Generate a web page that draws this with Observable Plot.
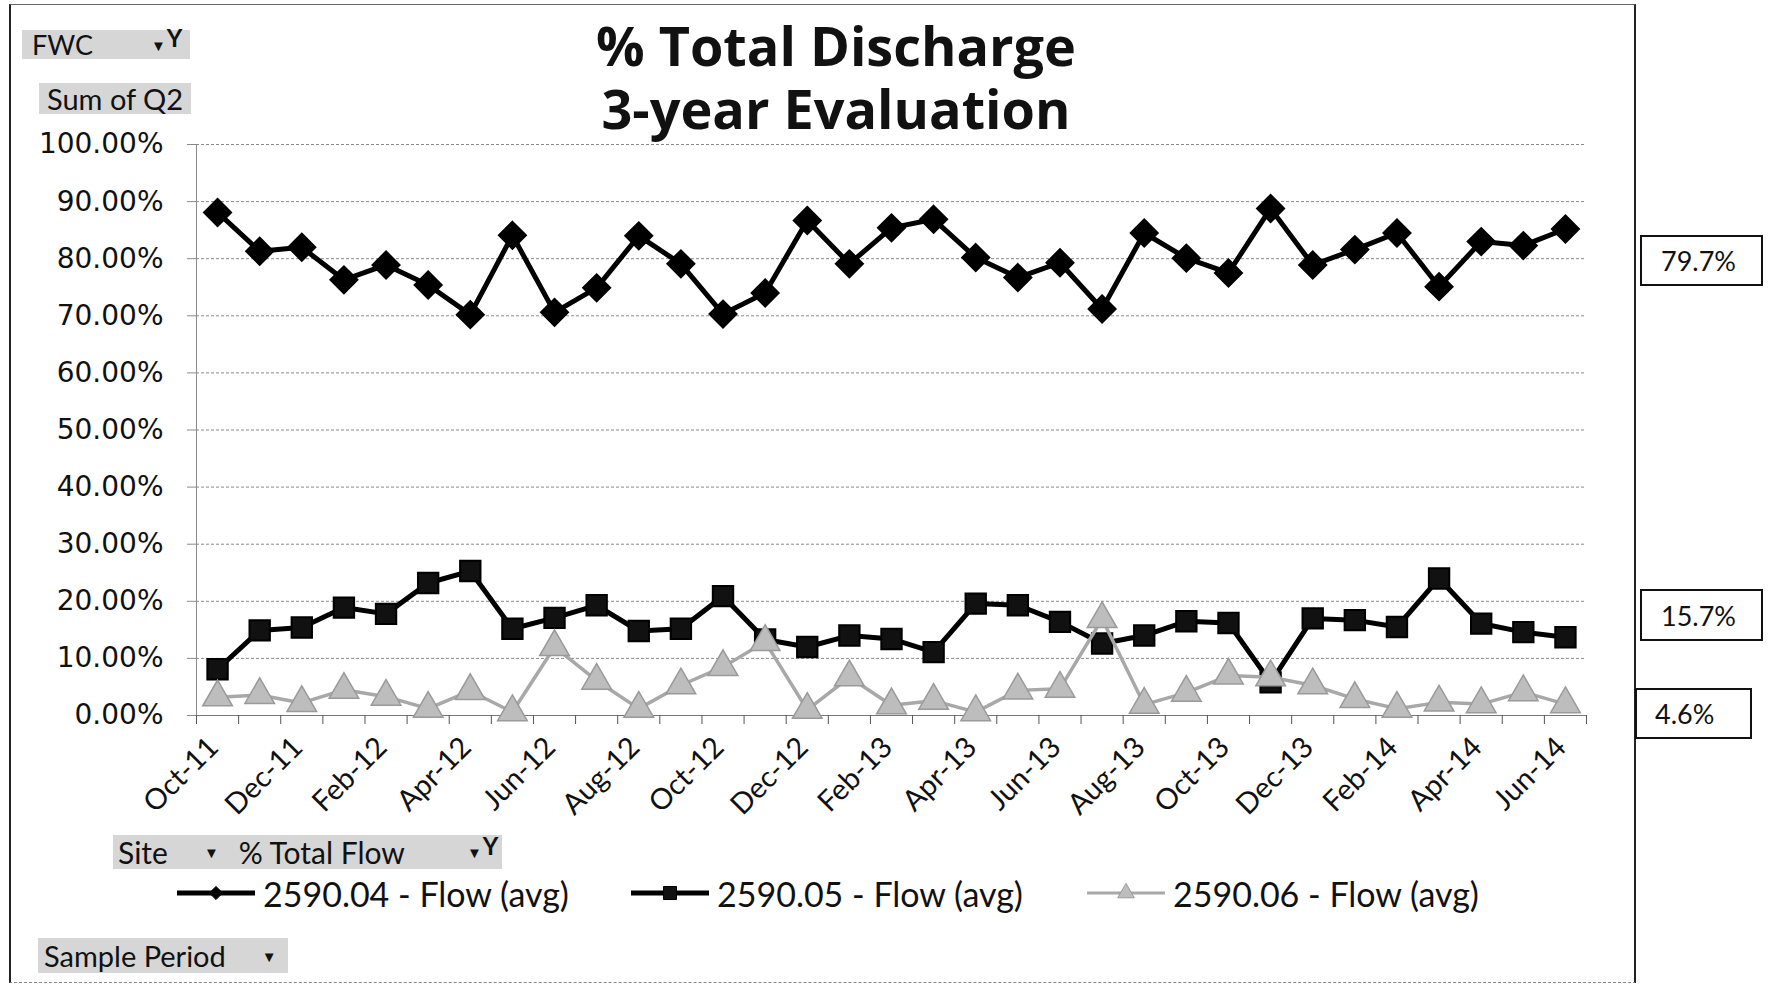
<!DOCTYPE html>
<html>
<head>
<meta charset="utf-8">
<script src="https://cdn.jsdelivr.net/npm/d3@7"></script>
<script src="https://cdn.jsdelivr.net/npm/@observablehq/plot@0.6"></script>
<style>
  body { margin: 0; background: #fff; }
  #root { position: relative; width: 1769px; height: 989px; overflow: hidden; background: #fff; }
  #root svg.plot { position: absolute; left: 0; top: 0; }
  .frame { position: absolute; left: 9px; top: 4px; width: 1627px; height: 979px; box-sizing: border-box;
           border-left: 2px solid #222; border-right: 2px solid #222; border-top: 1px solid #666; border-bottom: 1px dashed #888; }
  .title { position: absolute; left: 0; top: 14px; width: 1672px; text-align: center; font-family: "Open Sans", sans-serif;
           font-weight: bold; font-size: 54px; line-height: 63px; color: #111; white-space: pre-line; }
  .btn { position: absolute; background: #d6d6d6; color: #111; font-family: Lato, sans-serif; font-size: 27px;
         box-sizing: border-box; white-space: nowrap; display: flex; align-items: center; }
  .btn .arr { font-size: 15px; }
  .btn .flt { font-size: 24px; font-weight: bold; margin-left: 1px; position: relative; top: -7px; }
  .box { position: absolute; border: 2px solid #111; box-sizing: border-box; font-family: Lato, sans-serif;
         font-size: 27px; color: #111; display: flex; align-items: center; background: #fff; }
  .leg { position: absolute; display: flex; align-items: center; font-family: Lato, sans-serif; font-size: 34px;
         color: #111; white-space: nowrap; height: 42px; }
  .leg svg { margin-right: 8px; }
</style>
</head>
<body>
<div id="root"></div>
<script>
// ---- Data ----
const months = ["Oct-11","Nov-11","Dec-11","Jan-12","Feb-12","Mar-12","Apr-12","May-12","Jun-12","Jul-12","Aug-12","Sep-12",
  "Oct-12","Nov-12","Dec-12","Jan-13","Feb-13","Mar-13","Apr-13","May-13","Jun-13","Jul-13","Aug-13","Sep-13",
  "Oct-13","Nov-13","Dec-13","Jan-14","Feb-14","Mar-14","Apr-14","May-14","Jun-14"];
const s04 = [88.1, 81.3, 82.0, 76.3, 78.9, 75.4, 70.2, 84.1, 70.6, 74.9, 84.0, 79.1, 70.3, 74.0, 86.7, 79.1, 85.4, 86.9,
  80.2, 76.7, 79.3, 71.2, 84.5, 80.1, 77.5, 88.8, 78.9, 81.6, 84.5, 75.1, 83.0, 82.3, 85.2];
const s05 = [8.1, 14.9, 15.4, 18.9, 17.8, 23.2, 25.3, 15.2, 17.1, 19.3, 14.8, 15.2, 20.9, 13.3, 12.0, 14.0, 13.4, 11.1,
  19.6, 19.3, 16.4, 12.6, 14.0, 16.5, 16.2, 5.8, 17.0, 16.7, 15.5, 24.0, 16.1, 14.6, 13.7];
const s06 = [3.2, 3.6, 2.2, 4.5, 3.3, 1.2, 4.3, 0.6, 12.0, 6.1, 1.2, 5.3, 8.5, 12.9, 1.0, 6.7, 1.8, 2.6, 0.6, 4.4, 4.7,
  16.9, 1.9, 4.0, 7.0, 6.7, 5.3, 2.9, 1.2, 2.3, 2.0, 4.1, 2.0];
const seriesNames = ["2590.04 - Flow (avg)", "2590.05 - Flow (avg)", "2590.06 - Flow (avg)"];
const avgLabels = ["79.7%", "15.7%", "4.6%"];
const yTicks = [0, 0.1, 0.2, 0.3, 0.4, 0.5, 0.6, 0.7, 0.8, 0.9, 1.0];
const titleLines = ["% Total Discharge", "3-year Evaluation"];
const fieldButtons = ["FWC", "Sum of Q2", "Site", "% Total Flow", "Sample Period"];

// ---- Build ----
const root = document.getElementById("root");
const toRows = arr => arr.map((v, i) => ({i, v: v / 100}));
const d04 = toRows(s04), d05 = toRows(s05), d06 = toRows(s06);
const boundaries = d3.range(months.length + 1).map(k => k - 0.5);
const labelIdx = d3.range(0, months.length, 2);

const frame = document.createElement("div");
frame.className = "frame";
root.appendChild(frame);

const plot = Plot.plot({
  width: 1769,
  height: 989,
  marginLeft: 196,
  marginRight: 183,
  marginTop: 144,
  marginBottom: 274,
  style: {background: "transparent", color: "#111", overflow: "visible"},
  x: {type: "linear", domain: [-0.5, months.length - 0.5]},
  y: {domain: [0, 1]},
  marks: [
    Plot.gridY(yTicks, {stroke: "#8a8a8a", strokeOpacity: 1, strokeDasharray: "3,2"}),
    Plot.ruleX([-0.5], {stroke: "#8a8a8a"}),
    Plot.ruleY([0], {stroke: "#777"}),
    Plot.axisY({ticks: yTicks, tickSize: 9, tickPadding: 24, stroke: "#8a8a8a",
      tickFormat: d => (d * 100).toFixed(2) + "%", fontSize: 28, fontFamily: "DejaVu Sans", label: null}),
    Plot.axisX({ticks: boundaries, tickSize: 9, tickFormat: () => "", stroke: "#555", label: null}),
    Plot.axisX({ticks: labelIdx, tickSize: 0, tickPadding: 27, tickRotate: -45, dx: -4,
      tickFormat: i => months[i], fontSize: 29, fontFamily: "Lato", label: null}),
    Plot.line(d04, {x: "i", y: "v", stroke: "#000", strokeWidth: 5}),
    Plot.dot(d04, {x: "i", y: "v", symbol: "diamond2", r: 12.5, fill: "#000", stroke: "#000"}),
    Plot.line(d05, {x: "i", y: "v", stroke: "#000", strokeWidth: 5}),
    Plot.dot(d05, {x: "i", y: "v", symbol: "square", r: 11.5, fill: "#111", stroke: "#000", strokeWidth: 2}),
    Plot.line(d06, {x: "i", y: "v", stroke: "#a8a8a8", strokeWidth: 3.5}),
    Plot.dot(d06, {x: "i", y: "v", symbol: "triangle", r: 11, fill: "#bdbdbd", stroke: "#9a9a9a", strokeWidth: 1.5})
  ]
});
plot.classList.add("plot");
root.appendChild(plot);

// Title (one text block, two lines)
const title = document.createElement("div");
title.className = "title";
title.textContent = titleLines.join("\n");
root.appendChild(title);

// Pivot field buttons
function button(parts, left, top, width, height, padLeft, fontSize) {
  const el = document.createElement("div");
  el.className = "btn";
  Object.assign(el.style, {left: left + "px", top: top + "px", width: width + "px", height: height + "px",
    paddingLeft: padLeft + "px", fontSize: fontSize + "px"});
  parts.forEach(p => {
    const s = document.createElement("span");
    if (p.cls) s.className = p.cls;
    if (p.ml != null) s.style.marginLeft = p.ml + "px";
    s.textContent = p.t;
    el.appendChild(s);
  });
  root.appendChild(el);
}
button([{t: fieldButtons[0]}, {t: "▼", cls: "arr", ml: 58}, {t: "Y", cls: "flt"}], 22, 30, 168, 29, 10, 27);
button([{t: fieldButtons[1]}], 39, 83, 152, 31, 8, 29);
button([{t: fieldButtons[2]}, {t: "▼", cls: "arr", ml: 36}, {t: fieldButtons[3], ml: 20},
        {t: "▼", cls: "arr", ml: 62}, {t: "Y", cls: "flt"}], 113, 835, 389, 34, 5, 30);
button([{t: fieldButtons[4]}, {t: "▼", cls: "arr", ml: 36}], 38, 938, 250, 35, 6, 29);

// Legend
const legendDefs = [
  {name: seriesNames[0], left: 177, color: "#000", width: 5, sym: d3.symbolDiamond2, size: 110, fill: "#000", stroke: "#000"},
  {name: seriesNames[1], left: 631, color: "#000", width: 5, sym: d3.symbolSquare, size: 170, fill: "#111", stroke: "#000"},
  {name: seriesNames[2], left: 1087, color: "#a8a8a8", width: 3, sym: d3.symbolTriangle, size: 120, fill: "#bdbdbd", stroke: "#9a9a9a"}
];
legendDefs.forEach(L => {
  const item = document.createElement("div");
  item.className = "leg";
  item.style.left = L.left + "px";
  item.style.top = "872px";
  const svg = d3.create("svg").attr("width", 78).attr("height", 30);
  svg.append("line").attr("x1", 0).attr("x2", 78).attr("y1", 15).attr("y2", 15).attr("stroke", L.color).attr("stroke-width", L.width);
  svg.append("path").attr("transform", "translate(39,15)").attr("d", d3.symbol(L.sym, L.size)())
    .attr("fill", L.fill).attr("stroke", L.stroke);
  item.appendChild(svg.node());
  const tx = document.createElement("span");
  tx.textContent = L.name;
  item.appendChild(tx);
  root.appendChild(item);
});

// Average boxes
const boxDefs = [
  {left: 1640, top: 235, w: 123, h: 51, pad: 19},
  {left: 1640, top: 589, w: 123, h: 52, pad: 19},
  {left: 1635, top: 688, w: 117, h: 51, pad: 18}
];
avgLabels.forEach((t, k) => {
  const b = boxDefs[k];
  const el = document.createElement("div");
  el.className = "box";
  Object.assign(el.style, {left: b.left + "px", top: b.top + "px", width: b.w + "px", height: b.h + "px", paddingLeft: b.pad + "px"});
  el.textContent = t;
  root.appendChild(el);
});
</script>
</body>
</html>
